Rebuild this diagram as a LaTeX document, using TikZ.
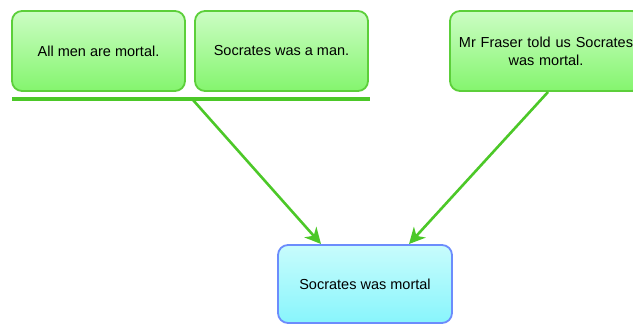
\documentclass[tikz,border=0pt]{standalone}
\usepackage{fontspec}
\setmainfont{Liberation Sans}
\usetikzlibrary{arrows.meta}
\definecolor{gtop}{HTML}{CCFDC4}
\definecolor{gbot}{HTML}{84F56E}
\definecolor{gborder}{HTML}{5CCF3A}
\definecolor{ctop}{HTML}{C8FCFC}
\definecolor{cbot}{HTML}{88F5FC}
\definecolor{cborder}{HTML}{6C8CFC}
\definecolor{arr}{HTML}{4CC828}
\begin{document}
\begin{tikzpicture}[x=1pt,y=-1pt,
  gbox/.style={draw=gborder, line width=1.8pt, rounded corners=10pt, top color=gtop, bottom color=gbot,
    minimum width=173pt, minimum height=80pt, align=center, inner sep=0pt,
    font=\fontsize{14.5}{18}\selectfont},
  cbox/.style={draw=cborder, line width=1.8pt, rounded corners=10pt, top color=ctop, bottom color=cbot,
    minimum width=174pt, minimum height=78pt, align=center, inner sep=0pt,
    font=\fontsize{14.5}{18}\selectfont},
  conn/.style={draw=arr, line width=2.6pt, -{Stealth[length=16pt,width=16pt,inset=5pt]}},
  bar/.style={draw=arr, line width=3.2pt}]
\useasboundingbox (0,0) rectangle (633,324);
\node[gbox] (a) at (98.5,51) {All men are mortal.};
\node[gbox] (b) at (281.5,51) {Socrates was a man.};
\node[gbox, minimum width=192pt, text width=192pt] (c) at (546,51) {Mr Fraser told us Socrates\hspace*{10pt}\\was mortal.\hspace*{10pt}};
\node[cbox] (d) at (365,284) {Socrates was mortal};
\coordinate (barL) at (12,99);
\coordinate (barR) at (370,99);
\coordinate (barM) at (193,100);
\coordinate (e1) at (321,244);
\coordinate (e2) at (409,244);
\coordinate (s2) at (548,92);
\draw[bar] (barL) -- (barR);
\draw[conn] (barM) -- (e1);
\draw[conn] (s2) -- (e2);
\end{tikzpicture}
\end{document}
